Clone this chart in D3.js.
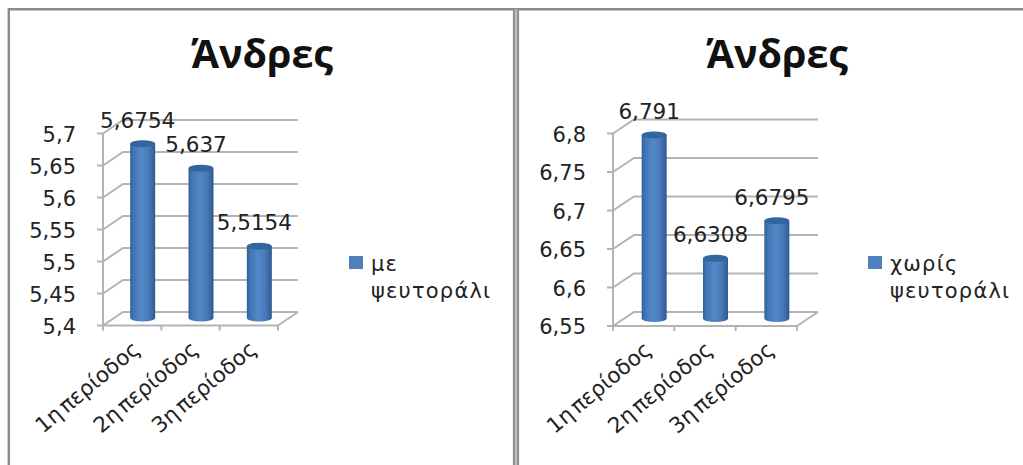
<!DOCTYPE html>
<html>
<head>
<meta charset="utf-8">
<script src="https://cdn.jsdelivr.net/npm/d3@7/dist/d3.min.js"></script>
<style>
html, body { margin: 0; padding: 0; background: #fff; overflow: hidden; }
text { fill: #222; font-family: "DejaVu Sans", sans-serif; }
text.title { fill: #111; font-family: "Open Sans", sans-serif; font-weight: 700; }
</style>
</head>
<body>
<svg id="chart" width="1023" height="465"></svg>
<script>
const categories = ["1η περίοδος", "2η περίοδος", "3η περίοδος"];
const titleText = "Άνδρες";

const valuesWith = [5.6754, 5.637, 5.5154];
const ticksWith = [5.4, 5.45, 5.5, 5.55, 5.6, 5.65, 5.7];
const legendWith = ["με", "ψευτοράλι"];

const valuesWithout = [6.791, 6.6308, 6.6795];
const ticksWithout = [6.55, 6.6, 6.65, 6.7, 6.75, 6.8];
const legendWithout = ["χωρίς", "ψευτοράλι"];

const svg = d3.select("#chart");
const comma = s => String(s).replace(".", ",");

// Cylinder shading, dark at both edges with a lighter band left of centre
const grad = svg.append("defs").append("linearGradient").attr("id", "cyl");
[[0, "#31619a"], [0.14, "#4275b3"], [0.45, "#5288c9"], [0.75, "#4779b8"], [1, "#2e598c"]]
  .forEach(([o, c]) => grad.append("stop").attr("offset", o).attr("stop-color", c));

// Panel frame lines
const frame = svg.append("g").attr("fill", "none");
frame.append("path").attr("d", "M1023,9.2H8.8V465").attr("stroke", "#8c8c8c").attr("stroke-width", 2.4);
frame.append("path").attr("d", "M514,9V465M518,9V465").attr("stroke", "#8f8f8f").attr("stroke-width", 2.2);
frame.append("path").attr("d", "M516,9V465").attr("stroke", "#b5b5b5").attr("stroke-width", 1.6);

function drawPanel(o) {
  const g = svg.append("g");
  const y = d3.scaleLinear().domain(d3.extent(o.ticks)).range([o.bottom, o.top]);
  const x = d3.scaleBand().domain(categories).range([o.left, o.right]);
  const gridStroke = { stroke: "#b3b3b3", "stroke-width": 2, fill: "none" };
  const apply = (sel, a) => { Object.entries(a).forEach(([k, v]) => sel.attr(k, v)); return sel; };

  // Walls: gridlines run up the side wall, then along the back
  apply(g.selectAll("path.grid").data(o.ticks).join("path").attr("class", "grid"), gridStroke)
    .attr("d", d => `M${o.left},${y(d)}l${o.dx},${-o.dy}H${o.right + o.dx}`);

  // Floor outline and front axis
  apply(g.append("path"), gridStroke)
    .attr("d", `M${o.right},${o.bottom}l${o.dx},${-o.dy}`);
  apply(g.append("path"), gridStroke)
    .attr("d", `M${o.left},${o.top}V${o.bottom}H${o.right}`);

  // Tick marks
  apply(g.selectAll("path.ytick").data(o.ticks).join("path").attr("class", "ytick"), gridStroke)
    .attr("d", d => `M${o.left - 6},${y(d)}H${o.left}`);
  const edges = categories.map(c => x(c)).concat(o.right);
  apply(g.selectAll("path.xtick").data(edges).join("path").attr("class", "xtick"), gridStroke)
    .attr("d", d => `M${d},${o.bottom}v5`);

  // Value-axis labels
  g.selectAll("text.ylab").data(o.ticks).join("text").attr("class", "ylab")
    .attr("x", o.left - 27).attr("y", d => y(d) + 8)
    .attr("text-anchor", "end").attr("font-size", 21)
    .text(comma);

  // Cylinders stand slightly behind the front plane
  const barW = 25, ry = 3.5, lift = 5.5, shift = 10.5;
  const yBar = v => y(v) - lift;
  const bars = g.selectAll("g.bar").data(o.values).join("g").attr("class", "bar");
  const cx = (d, i) => x(categories[i]) + x.bandwidth() / 2 + shift;
  bars.append("path")
    .attr("fill", "url(#cyl)")
    .attr("d", (d, i) => {
      const l = cx(d, i) - barW / 2;
      return `M${l},${yBar(d)}V${yBar(o.ticks[0]) - 2}a${barW / 2},${ry} 0 0 0 ${barW},0V${yBar(d)}Z`;
    });
  bars.append("ellipse")
    .attr("cx", cx).attr("cy", yBar).attr("rx", barW / 2).attr("ry", ry)
    .attr("fill", "#33659f");

  // Value labels above each cylinder
  g.selectAll("text.val").data(o.values).join("text").attr("class", "val")
    .attr("x", (d, i) => cx(d, i) - 5).attr("y", d => yBar(d) - 16)
    .attr("text-anchor", "middle").attr("font-size", 21.5)
    .text(comma);

  // Slanted category labels
  g.selectAll("text.cat").data(categories).join("text").attr("class", "cat")
    .attr("transform", d => `translate(${x(d) + x.bandwidth() / 2 + 9},${o.bottom + 26}) rotate(-40)`)
    .attr("text-anchor", "end").attr("font-size", 21.5).attr("word-spacing", -3.5)
    .text(d => d);

  // Chart title
  g.append("text").attr("class", "title")
    .attr("x", o.titleX).attr("y", 68).attr("text-anchor", "middle")
    .attr("font-size", 39.5)
    .text(titleText);

  // Legend swatch and two-line entry
  g.append("rect")
    .attr("x", o.legendX).attr("y", 256).attr("width", 14).attr("height", 13)
    .attr("fill", "#4f81bd");
  g.selectAll("text.leg").data(o.legend).join("text").attr("class", "leg")
    .attr("x", o.legendX + 22).attr("y", (d, i) => 271 + i * 27)
    .attr("font-size", 21).attr("letter-spacing", 1.2)
    .text(d => d);
}

drawPanel({ values: valuesWith, ticks: ticksWith, legend: legendWith,
  left: 103, right: 278, top: 133.5, bottom: 325.5, dx: 20, dy: 13.5, titleX: 262, legendX: 349 });
drawPanel({ values: valuesWithout, ticks: ticksWithout, legend: legendWithout,
  left: 613, right: 797, top: 133.5, bottom: 326, dx: 21, dy: 14, titleX: 777, legendX: 868 });
</script>
</body>
</html>
